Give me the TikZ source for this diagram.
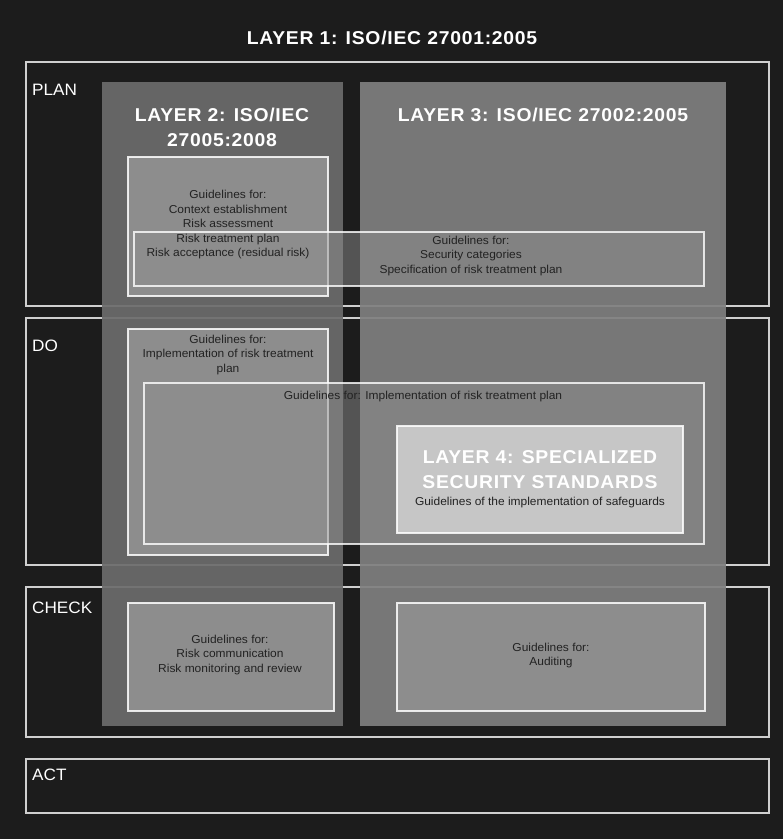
\documentclass[tikz,border=0pt]{standalone}
\usepackage{fontspec}
\setmainfont{Liberation Sans}[FakeStretch=1.04]
\newfontfamily\LayerFont{Liberation Sans}[FakeStretch=1.04, LetterSpace=4]
\usepackage{xcolor}
\usepackage{tikz}
\usetikzlibrary{positioning, calc}

\definecolor{BackDark}{HTML}{1C1C1C}
\definecolor{PhaseLine}{HTML}{CFCFCF}
\definecolor{ColTwo}{HTML}{6C6C6C}
\definecolor{ColThree}{HTML}{7F7F7F}
\definecolor{InnerFill}{HTML}{8D8D8D}
\definecolor{LayerFour}{HTML}{C6C6C6}
\definecolor{GuideInk}{HTML}{222222}

\begin{document}
\begin{tikzpicture}[x=1pt, y=-1pt,
					PhaseBox/.style={rectangle, draw=PhaseLine, line width=1.3pt, inner sep=0pt},
					LayerCol/.style={rectangle, fill opacity=0.92, inner sep=0pt},
					InnerBox/.style={rectangle, fill=InnerFill, draw=white, draw opacity=0.85, line width=1.1pt, inner sep=0pt},
					WideBox/.style={rectangle, fill=InnerFill, fill opacity=0.5, draw=white, draw opacity=0.8, line width=1.1pt, inner sep=0pt},
					PhaseLabel/.style={anchor=west, text=white, inner sep=0pt, font=\fontsize{16.5}{19}\selectfont},
					LayerTitle/.style={text=white, align=center, inner sep=0pt, font=\LayerFont\bfseries\fontsize{18.6}{25}\selectfont},
					GuideText/.style={text=GuideInk, align=center, inner sep=0pt, font=\fontsize{11.5}{14.5}\selectfont}]

				% background and frame
				\fill[BackDark] (0,0) rectangle (783,839);
				\useasboundingbox (0,0) rectangle (783,839);

				\node[LayerTitle] (TitleOne) at (392,38) {LAYER 1: ISO/IEC 27001:2005};

				% PDCA phases
				\node[PhaseBox, minimum width=743pt, minimum height=244pt] (Plan) at (397.5,184) {};
				\node[PhaseBox, minimum width=743pt, minimum height=247pt] (Do) at (397.5,441.5) {};
				\node[PhaseBox, minimum width=743pt, minimum height=150pt] (Check) at (397.5,662) {};
				\node[PhaseBox, minimum width=743pt, minimum height=54pt] (Act) at (397.5,786) {};

				\node[PhaseLabel] (PlanLabel) at (32,90) {PLAN};
				\node[PhaseLabel] (DoLabel) at (32,346) {DO};
				\node[PhaseLabel] (CheckLabel) at (32,608) {CHECK};
				\node[PhaseLabel] (ActLabel) at (32,775) {ACT};

				% layer 2 and layer 3 columns
				\node[LayerCol, fill=ColTwo, minimum width=241pt, minimum height=644pt] (ColL2) at (222.5,404) {};
				\node[LayerCol, fill=ColThree, minimum width=366pt, minimum height=644pt] (ColL3) at (543,404) {};

				\node[LayerTitle] (TitleTwo) at (222,127.5) {LAYER 2: ISO/IEC\\27005:2008};
				\node[LayerTitle] (TitleThree) at (543,115) {LAYER 3: ISO/IEC 27002:2005};

				% guideline boxes
				\node[InnerBox, minimum width=200pt, minimum height=139pt] (PlanRisk) at (228,226.5) {};
				\node[InnerBox, minimum width=200pt, minimum height=226pt] (DoRisk) at (228,442) {};
				\node[InnerBox, minimum width=206pt, minimum height=108pt] (CheckRisk) at (231,657) {};
				\node[InnerBox, minimum width=308pt, minimum height=108pt] (CheckAudit) at (551,657) {};

				\node[WideBox, minimum width=570pt, minimum height=54pt] (PlanWide) at (419,259) {};
				\node[WideBox, minimum width=560pt, minimum height=161pt] (DoWide) at (424,463.5) {};

				\node[InnerBox, fill=LayerFour, minimum width=286pt, minimum height=107pt] (LayerFourBox) at (540,479.5) {};

				% texts
				\node[GuideText] (PlanRiskText) at (228,225) {Guidelines for:\\Context establishment\\Risk assessment\\Risk treatment plan\\Risk acceptance (residual risk)};
				\node[GuideText] (PlanWideText) at (471,256) {Guidelines for:\\Security categories\\Specification of risk treatment plan};
				\node[GuideText] (DoRiskText) at (228,355) {Guidelines for:\\Implementation of risk treatment\\plan};
				\node[GuideText] (DoWideText) at (423,397) {Guidelines for: Implementation of risk treatment plan};
				\node[LayerTitle] (TitleFour) at (540,470) {LAYER 4: SPECIALIZED\\SECURITY STANDARDS};
				\node[GuideText] (TitleFourSub) at (540,503) {Guidelines of the implementation of safeguards};
				\node[GuideText] (CheckRiskText) at (230,655) {Guidelines for:\\Risk communication\\Risk monitoring and review};
				\node[GuideText] (CheckAuditText) at (551,655.5) {Guidelines for:\\Auditing};
			\end{tikzpicture}
\end{document}
